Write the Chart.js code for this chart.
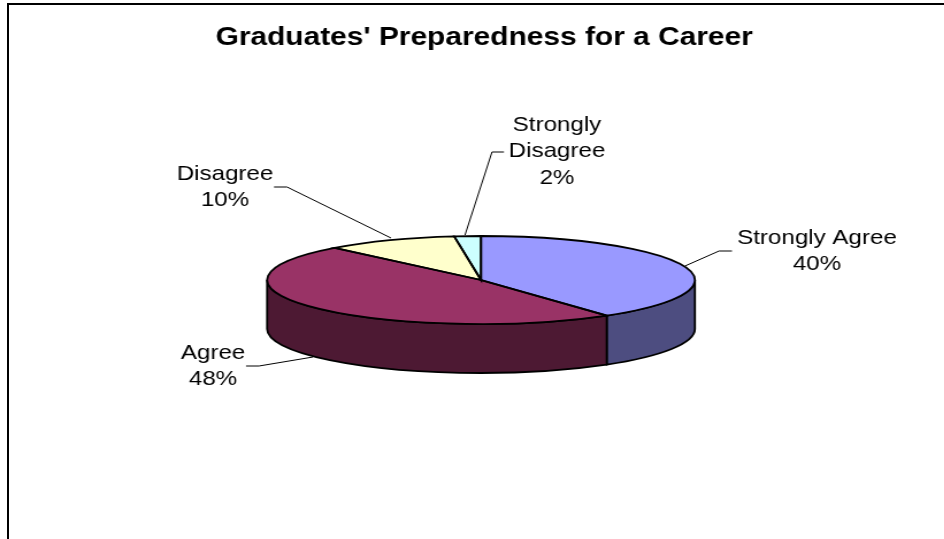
<!DOCTYPE html>
<html>
<head>
<meta charset="utf-8">
<script src="https://cdn.jsdelivr.net/npm/chart.js@4"></script>
<style>
  html, body { margin:0; padding:0; background:#fff; overflow:hidden; }
  #wrap { position:relative; width:944px; height:539px; overflow:hidden; }
  #frame { position:absolute; left:7px; top:3px; right:-5px; bottom:-5px; border:2px solid #000; }
  /* the original picture is stretched sideways, so the canvas is too */
  canvas { position:absolute; left:0; top:0; transform-origin:0 0; transform:scaleX(1.15); }
</style>
</head>
<body>
<div id="wrap">
  <canvas id="pie" width="821" height="539"></canvas>
  <div id="frame"></div>
</div>
<script>
const titleText = "Graduates' Preparedness for a Career";
const categories = ["Strongly Agree", "Agree", "Disagree", "Strongly Disagree"];
const percents = [40, 48, 10, 2];
const topColors = ["#9999FF", "#993366", "#FFFFCC", "#CCFFFF"];
const sideColors = ["#4D4D80", "#4D1933", "#80806A", "#668080"];

// wrapped label lines, same order as categories
const labelLines = [["Strongly Agree"], ["Agree"], ["Disagree"], ["Strongly", "Disagree"]];

const stretchX = 1.15;

// where the tilted pie sits, in page pixels
const pieX = 481 / stretchX, pieY = 280, pieRy = 44, pieDepth = 49;

// label placement in page pixels: centre x, first line y, leader line points
const labelPlace = [
  { x: 817, y: 238, line: [[732, 251], [719, 251], [685, 266]] },
  { x: 213, y: 353, line: [[246, 366], [259, 366], [313, 357]] },
  { x: 225, y: 174, line: [[274, 187], [287, 187], [391, 238]] },
  { x: 557, y: 125, line: [[504, 152], [492, 152], [465, 235]] }
];

const tiltPlugin = {
  id: 'tilt',
  beforeDatasetsDraw(chart) {
    const ctx = chart.ctx;
    const arcs = chart.getDatasetMeta(0).data;
    const rx = arcs[0].outerRadius;
    // side wall, only the front half of the ellipse shows
    ctx.save();
    ctx.lineWidth = 1.8;
    ctx.strokeStyle = '#000';
    arcs.forEach((a, i) => {
      let s = Math.max(a.startAngle, 0), e = Math.min(a.endAngle, Math.PI);
      if (e <= s) return;
      ctx.beginPath();
      ctx.ellipse(pieX, pieY, rx, pieRy, 0, s, e);
      ctx.ellipse(pieX, pieY + pieDepth, rx, pieRy, 0, e, s, true);
      ctx.closePath();
      ctx.fillStyle = sideColors[i];
      ctx.fill();
      ctx.stroke();
    });
    ctx.restore();
    // squash the library's arcs into the ellipse
    ctx.save();
    ctx.translate(pieX, pieY);
    ctx.scale(1, pieRy / rx);
    ctx.translate(-arcs[0].x, -arcs[0].y);
  },
  afterDatasetsDraw(chart) {
    const ctx = chart.ctx;
    ctx.restore();
    const arcs = chart.getDatasetMeta(0).data;
    ctx.save();
    ctx.lineWidth = 1.8;
    ctx.strokeStyle = '#000';
    arcs.forEach(a => {
      ctx.beginPath();
      ctx.moveTo(pieX, pieY);
      ctx.ellipse(pieX, pieY, a.outerRadius, pieRy, 0, a.startAngle, a.endAngle);
      ctx.closePath();
      ctx.stroke();
    });
    // leader lines and labels
    ctx.lineWidth = 1;
    ctx.fillStyle = '#000';
    ctx.font = '21px "Liberation Sans"';
    ctx.textAlign = 'center';
    ctx.textBaseline = 'middle';
    labelPlace.forEach((p, i) => {
      ctx.beginPath();
      p.line.forEach((pt, k) => k ? ctx.lineTo(pt[0] / stretchX, pt[1]) : ctx.moveTo(pt[0] / stretchX, pt[1]));
      ctx.stroke();
      const lines = labelLines[i].concat(percents[i] + '%');
      lines.forEach((t, k) => ctx.fillText(t, p.x / stretchX, p.y + k * 26.5));
    });
    ctx.restore();
  }
};

new Chart(document.getElementById('pie'), {
  type: 'pie',
  data: {
    labels: categories,
    datasets: [{
      data: percents,
      backgroundColor: topColors,
      borderWidth: 0,
      clip: false,
      radius: 186
    }]
  },
  options: {
    responsive: false,
    animation: false,
    layout: { padding: { left: 21 } },
    plugins: {
      legend: { display: false },
      tooltip: { enabled: false },
      title: {
        display: true,
        text: titleText,
        color: '#000',
        font: { family: '"Liberation Sans"', size: 26, weight: 'bold' },
        padding: { top: 22, bottom: 10 }
      }
    }
  },
  plugins: [tiltPlugin]
});
</script>
</body>
</html>
